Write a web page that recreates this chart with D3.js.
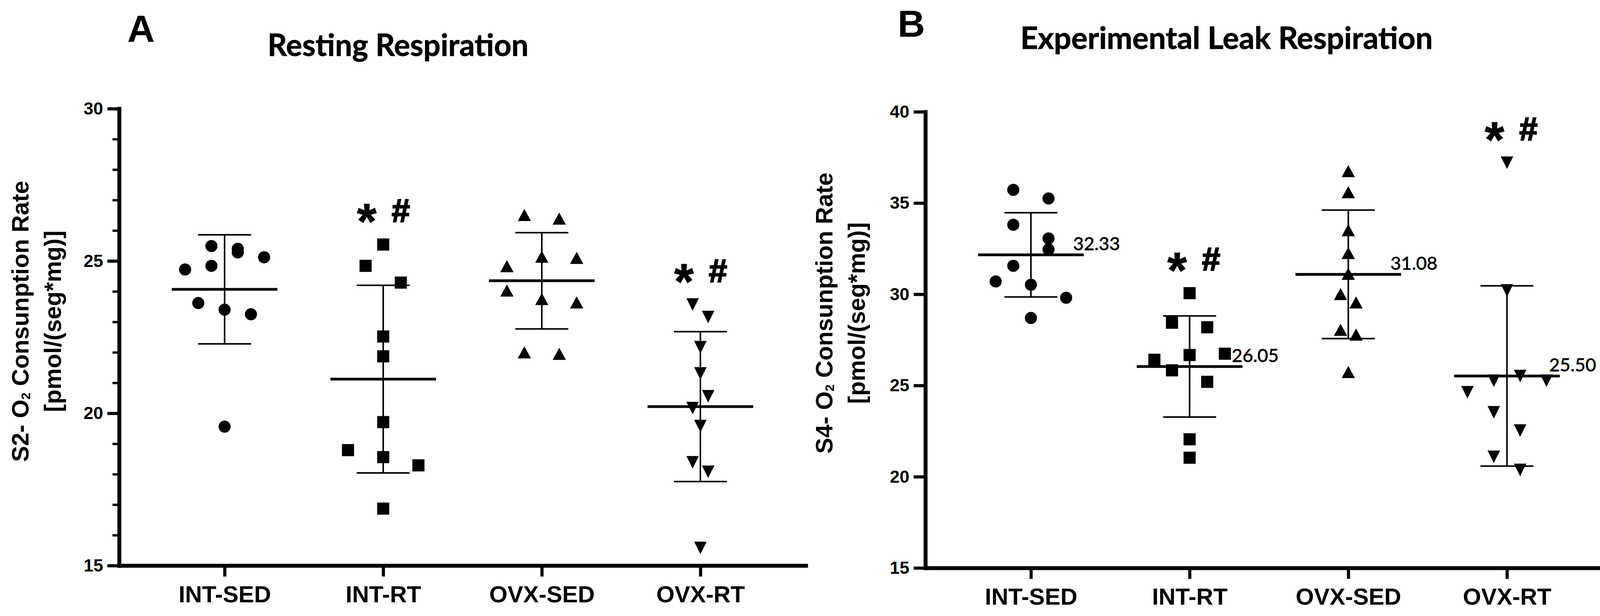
<!DOCTYPE html>
<html><head><meta charset="utf-8">
<script src="https://cdn.jsdelivr.net/npm/d3@7"></script>
<style>html,body{margin:0;padding:0;background:#fff}</style>
</head><body>
<svg id="chart" width="4150" height="1576" xmlns="http://www.w3.org/2000/svg"></svg>
<script>
// ---------------- DATA ----------------
const categories = ["INT-SED", "INT-RT", "OVX-SED", "OVX-RT"];

// Panel A: Resting Respiration (S2)
const restIntSed = [25.49, 25.40, 25.28, 25.12, 24.84, 24.72, 23.62, 23.40, 23.25, 19.56];
const restIntSedSlot = [-1, 1, 1, 3, -1, -3, -2, 0, 2, 0];
const restIntRt = [25.54, 24.84, 24.29, 22.52, 21.87, 19.71, 18.79, 18.56, 18.29, 16.87];
const restIntRtSlot = [0, -1, 1, 0, 0, 0, -2, 0, 2, 0];
const restOvxSed = [26.51, 26.39, 25.14, 25.10, 24.83, 24.03, 23.75, 23.64, 22.00, 21.95];
const restOvxSedSlot = [-1, 1, 0, 2, -2, -2, 0, 2, -1, 1];
const restOvxRt = [23.57, 23.16, 22.17, 21.31, 20.56, 20.17, 19.58, 18.39, 18.08, 15.58];
const restOvxRtSlot = [-1, 1, 0, 0, 1, -1, 0, -1, 1, 0];
const restMean = [24.07, 21.12, 24.35, 20.22];
const restSD = [1.79, 3.08, 1.58, 2.46];
const restSig = [false, true, false, true];
const restTicks = [15, 20, 25, 30];

// Panel B: Experimental Leak Respiration (S4)
const leakIntSed = [35.72, 35.25, 33.81, 33.06, 32.46, 31.56, 30.70, 30.52, 29.81, 28.70];
const leakIntSedSlot = [-1, 1, -1, 1, 1, -1, -2, 0, 2, 0];
const leakIntRt = [30.06, 28.44, 28.19, 26.74, 26.67, 26.41, 25.83, 25.20, 22.05, 21.04];
const leakIntRtSlot = [0, -1, 1, 2, 0, -2, -1, 1, 0, 0];
const leakOvxSed = [36.75, 35.59, 33.51, 32.26, 31.12, 30.01, 29.55, 28.05, 27.79, 25.74];
const leakOvxSedSlot = [0, 0, 0, 0, 0, -1, 1, -1, 1, 0];
const leakOvxRt = [37.21, 30.21, 25.52, 25.26, 25.26, 24.63, 23.53, 22.53, 21.09, 20.37];
const leakOvxRtSlot = [0, 0, 1, -1, 3, -3, -1, 1, -1, 1];
const leakMean = [32.16, 26.04, 31.09, 25.52];
const leakSD = [2.31, 2.77, 3.52, 4.94];
const leakMeanLabels = ["32.33", "26.05", "31.08", "25.50"];
const leakSig = [false, true, false, true];
const leakTicks = [15, 20, 25, 30, 35, 40];

// ---------------- DRAWING ----------------
const svg = d3.select("#chart");
svg.append("rect").attr("width", 4150).attr("height", 1576).attr("fill", "#fff");

const SANS = "'Liberation Sans', Arial, Helvetica, sans-serif";
const CAL = "Lato, 'Open Sans', sans-serif";
const shapes = ["circle", "square", "triUp", "triDown"];

function markerPath(kind) {
  if (kind === "circle") return d3.symbol(d3.symbolCircle, Math.PI * 15.5 * 15.5)();
  if (kind === "square") return "M-15.5,-15.5H15.5V15.5H-15.5Z";
  if (kind === "triUp") return "M0,-15.5L17,15.5L-17,15.5Z";
  return "M-16,-16L16,-16L0,16Z";
}

function fitWidth(sel, target) {
  const w = sel.node().getComputedTextLength();
  const fs = parseFloat(sel.attr("font-size"));
  sel.attr("font-size", fs * target / w);
}

function drawPanel(cfg) {
  const g = svg.append("g");
  const x = d3.scalePoint().domain(categories).range([cfg.x0, cfg.x1]).padding(0.665);
  const y = d3.scaleLinear().domain(cfg.domain).range([cfg.yBot, cfg.yTop]);
  const step = x.step();

  // minor ticks
  if (cfg.minor) {
    const minorVals = d3.range(cfg.domain[0] + 1, cfg.domain[1]).filter(v => v % 5 !== 0);
    const mg = g.append("g").attr("transform", `translate(${cfg.x0},0)`)
      .call(d3.axisLeft(y).tickValues(minorVals).tickSize(17).tickFormat(""));
    mg.select(".domain").remove();
    mg.selectAll(".tick line").attr("stroke", "#000").attr("stroke-width", 6);
  }
  // y axis
  const ya = g.append("g").attr("transform", `translate(${cfg.x0},0)`)
    .call(d3.axisLeft(y).tickValues(cfg.ticks).tickSize(30).tickPadding(11).tickSizeOuter(0));
  ya.select(".domain").attr("stroke", "#000").attr("stroke-width", 10).attr("stroke-linecap", "square");
  ya.selectAll(".tick line").attr("stroke", "#000").attr("stroke-width", 8);
  ya.selectAll(".tick text").attr("font-family", SANS).attr("font-weight", "bold")
    .attr("font-size", 45).attr("fill", "#000");

  // x axis
  const xa = g.append("g").attr("transform", `translate(0,${cfg.yBot})`)
    .call(d3.axisBottom(x).tickSize(28).tickSizeOuter(0));
  xa.select(".domain").attr("stroke", "#000").attr("stroke-width", 10).attr("stroke-linecap", "square");
  xa.selectAll(".tick line").attr("stroke", "#000").attr("stroke-width", 8);
  xa.selectAll(".tick text").attr("font-family", SANS).attr("font-weight", "bold")
    .attr("font-size", 60).attr("fill", "#000").attr("y", 94).attr("dy", 0);

  // groups
  categories.forEach((cat, i) => {
    const cx = x(cat);
    const m = cfg.mean[i], sd = cfg.sd[i];
    const eg = g.append("g");
    eg.append("line").attr("x1", cx).attr("x2", cx).attr("y1", y(m - sd)).attr("y2", y(m + sd))
      .attr("stroke", "#000").attr("stroke-width", 4);
    [m - sd, m + sd].forEach(v => {
      eg.append("line").attr("x1", cx - step * 0.167).attr("x2", cx + step * 0.167)
        .attr("y1", y(v)).attr("y2", y(v)).attr("stroke", "#000").attr("stroke-width", 4);
    });
    eg.append("line").attr("x1", cx - step * 0.333).attr("x2", cx + step * 0.333)
      .attr("y1", y(m)).attr("y2", y(m)).attr("stroke", "#000").attr("stroke-width", 7);

    const vals = cfg.values[i], slots = cfg.slots[i];
    const slotW = cfg.slotFrac[i] * step;
    g.append("g").selectAll("path").data(vals).join("path")
      .attr("d", markerPath(shapes[i]))
      .attr("transform", (v, j) => `translate(${cx + slots[j] * slotW},${y(v)})`)
      .attr("fill", "#000");

    if (cfg.labels) {
      g.append("text").attr("x", cx + 108).attr("y", y(m) - 12)
        .attr("font-family", CAL).attr("font-size", 47).attr("fill", "#000")
        .attr("stroke", "#000").attr("stroke-width", 0.9)
        .text(cfg.labels[i]);
    }
    if (cfg.sig[i]) {
      const c = y(d3.max(vals)) - 87;
      g.append("text").attr("x", cx + cfg.astDx).attr("y", c + 0.56 * 128)
        .attr("text-anchor", "middle").attr("font-family", SANS).attr("font-weight", "bold")
        .attr("font-size", 128).attr("stroke", "#000").attr("stroke-width", 1.5).text("*");
      g.append("text").attr("x", cx + cfg.hashDx).attr("y", c + 0.35 * 84)
        .attr("text-anchor", "middle").attr("font-family", SANS).attr("font-weight", "bold")
        .attr("font-size", 84).attr("stroke", "#000").attr("stroke-width", 3).text("#");
    }
  });

  // y title (two lines, rotated)
  const t1 = g.append("text").attr("transform", `translate(${cfg.yt1},${cfg.ytc}) rotate(-90)`)
    .attr("text-anchor", "middle").attr("font-family", SANS).attr("font-weight", "bold")
    .attr("font-size", 61).attr("fill", "#000");
  t1.append("tspan").text(cfg.stage + "- O");
  t1.append("tspan").attr("font-size", 32).attr("dy", 4).text("2");
  t1.append("tspan").attr("dy", -4).text(" Consunption Rate");
  g.append("text").attr("transform", `translate(${cfg.yt1 + 83},${cfg.ytc}) rotate(-90)`)
    .attr("text-anchor", "middle").attr("font-family", SANS).attr("font-weight", "bold")
    .attr("font-size", 61).attr("fill", "#000").text("[pmol/(seg*mg)]");

  // title
  const tt = g.append("text").attr("x", cfg.titleX).attr("y", cfg.titleY).attr("text-anchor", "middle")
    .attr("font-family", CAL).attr("font-weight", "bold").attr("font-size", 70).attr("fill", "#000")
    .attr("stroke", "#000").attr("stroke-width", 1)
    .text(cfg.title);
  fitWidth(tt, cfg.titleW);

  // panel letter
  g.append("text").attr("x", cfg.letterX).attr("y", cfg.letterY).attr("text-anchor", "middle")
    .attr("font-family", SANS).attr("font-weight", "bold").attr("font-size", 97).attr("fill", "#000")
    .text(cfg.letter);
}

drawPanel({
  x0: 305, x1: 2063, yTop: 278, yBot: 1447, domain: [15, 30], ticks: restTicks, minor: true,
  values: [restIntSed, restIntRt, restOvxSed, restOvxRt],
  slots: [restIntSedSlot, restIntRtSlot, restOvxSedSlot, restOvxRtSlot],
  slotFrac: [0.083, 0.111, 0.110, 0.049],
  mean: restMean, sd: restSD, sig: restSig, labels: null, astDx: -42, hashDx: 45,
  stage: "S2", yt1: 73, ytc: 822,
  title: "Resting Respiration", titleX: 1019, titleY: 143, titleW: 668,
  letter: "A", letterX: 361, letterY: 107
});
drawPanel({
  x0: 2369, x1: 4128, yTop: 286, yBot: 1453, domain: [15, 40], ticks: leakTicks, minor: false,
  values: [leakIntSed, leakIntRt, leakOvxSed, leakOvxRt],
  slots: [leakIntSedSlot, leakIntRtSlot, leakOvxSedSlot, leakOvxRtSlot],
  slotFrac: [0.111, 0.111, 0.049, 0.083],
  mean: leakMean, sd: leakSD, sig: leakSig, labels: leakMeanLabels, astDx: -32, hashDx: 55,
  stage: "S4", yt1: 2131, ytc: 801,
  title: "Experimental Leak Respiration", titleX: 3140, titleY: 125, titleW: 1056,
  letter: "B", letterX: 2333, letterY: 94
});
</script>
</body></html>
